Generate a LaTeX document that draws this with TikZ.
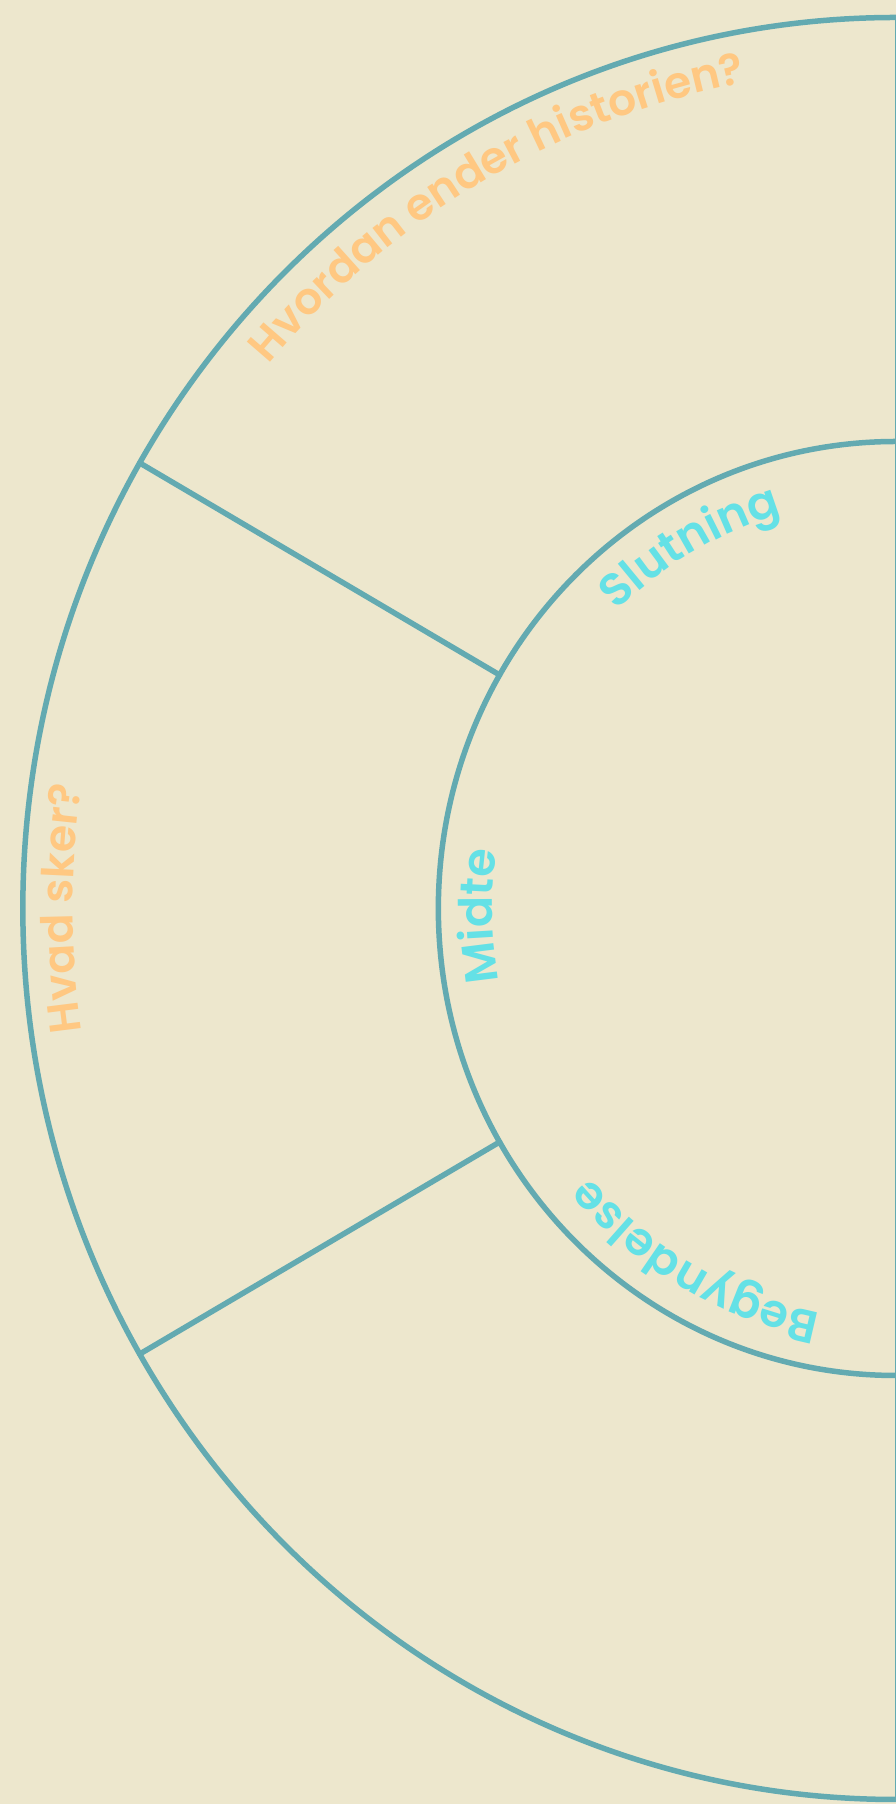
\documentclass[tikz,border=0pt]{standalone}
\usepackage{fontspec}
\setmainfont{Poppins}
\newfontfamily\popsemi{Poppins SemiBold}
\usetikzlibrary{decorations.text}
\definecolor{bg}{RGB}{237,231,205}
\definecolor{ln}{RGB}{99,170,177}
\definecolor{ot}{RGB}{255,200,130}
\definecolor{ct}{RGB}{100,225,230}
\newcommand\otfont{\popsemi\fontsize{44}{44}\selectfont\color{ot}}
\newcommand\ctfont{\popsemi\fontsize{46}{46}\selectfont\color{ct}}
\begin{document}
\begin{tikzpicture}[x=1pt,y=1pt,
  ringline/.style={draw=ln, line width=5.5pt},
  spoke/.style={draw=ln, line width=5.5pt, line cap=round}]
\fill[bg] (0,0) rectangle (896,1804);
\useasboundingbox (0,0) rectangle (896,1804);
\begin{scope}[shift={(896,895.5)}, xscale=0.98]
  \coordinate (C) at (0,0);
  \coordinate (otop) at (90:891);
  \coordinate (obot) at (270:891);
  \coordinate (itop) at (90:467);
  \coordinate (o1) at (150:891);
  \coordinate (i1) at (150:467);
  \coordinate (o2) at (210:891);
  \coordinate (i2) at (210:467);
  \path[ringline] (otop) arc[start angle=90, end angle=270, radius=891];
  \path[ringline] (itop) arc[start angle=90, end angle=270, radius=467];
  \path[draw=ln, line width=2pt] (otop) -- (obot);
  \path[spoke] (i1) -- (o1);
  \path[spoke] (i2) -- (o2);
  % texts
  \path[decorate, decoration={text along path, text align=center,
     text={|\otfont|Hvordan ender historien?}}]
     (150:840) arc[start angle=150, end angle=90, radius=840];
  \path[decorate, decoration={text along path, text align=center,
     text={|\otfont|Hvad sker?}}]
     (210:840) arc[start angle=210, end angle=150, radius=840];
  \path[decorate, decoration={text along path, text align=center,
     text={|\ctfont|Slutning}}]
     (150:412) arc[start angle=150, end angle=90, radius=412];
  \path[decorate, decoration={text along path, text align=center,
     text={|\ctfont|Midte}}]
     (211:412) arc[start angle=211, end angle=151, radius=412];
  \path[decorate, decoration={text along path, text align=center,
     text={|\ctfont|Begyndelse}}]
     (270:412) arc[start angle=270, end angle=210, radius=412];
\end{scope}
\end{tikzpicture}
\end{document}
